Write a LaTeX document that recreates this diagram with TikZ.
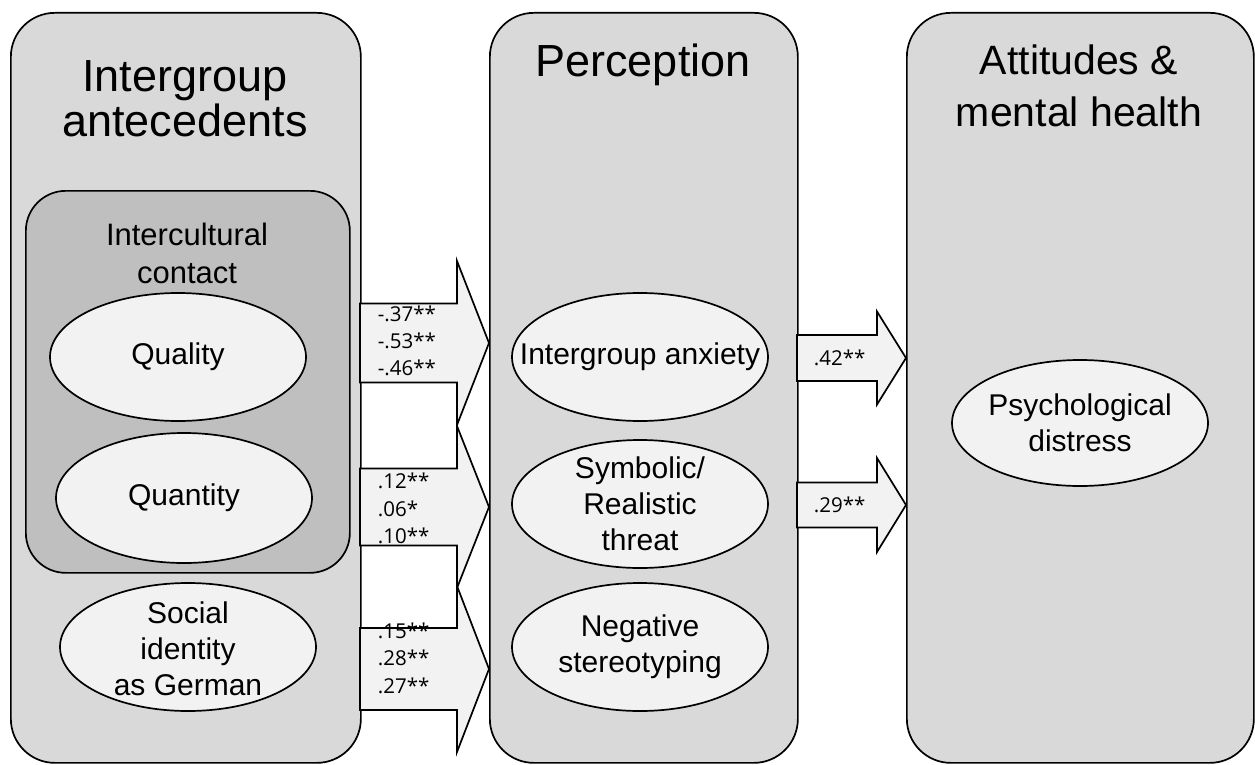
\documentclass[tikz,border=0pt]{standalone}
\usepackage{fontspec}
\setmainfont{Liberation Sans}
\newfontfamily\lblfont{Open Sans}
\usetikzlibrary{shapes.geometric}
\definecolor{panelgray}{HTML}{D9D9D9}
\definecolor{innergray}{HTML}{BFBFBF}
\definecolor{lightfill}{HTML}{F2F2F2}
\newcommand\blockarr[6]{% x0, x1, x2, cy, half body, half head
  \draw[arrowbox] (#1,#4-#5) -- (#2,#4-#5) -- (#2,#4-#6) -- (#3,#4)
    -- (#2,#4+#6) -- (#2,#4+#5) -- (#1,#4+#5) -- cycle;}
\begin{document}
\begin{tikzpicture}[x=1pt,y=-1pt,line width=1.7pt,
  panel/.style={draw=black,fill=panelgray,rounded corners=44pt,inner sep=0pt,anchor=north west},
  innerpanel/.style={draw=black,fill=innergray,rounded corners=40pt,inner sep=0pt,anchor=north west},
  construct/.style={ellipse,draw=black,fill=lightfill,minimum width=256pt,minimum height=128pt,
    inner sep=0pt},
  ctext/.style={inner sep=0pt,align=center,font=\fontsize{30}{36}\selectfont},
  bigtitle/.style={anchor=base,inner sep=0pt,font=\fontsize{45}{45}\selectfont},
  midtitle/.style={anchor=base,inner sep=0pt,font=\fontsize{31}{36}\selectfont},
  arrowbox/.style={draw=black,fill=lightfill,line join=miter},
  lbl/.style={anchor=base west,inner sep=0pt,font=\lblfont\fontsize{20.5}{25}\selectfont}]
\fill[white] (0,0) rectangle (1255,765);
\useasboundingbox (0,0) rectangle (1255,765);

% panels
\node[panel,minimum width=350pt,minimum height=750pt] (pL) at (10,12) {};
\node[panel,minimum width=308pt,minimum height=750pt] (pM) at (489,12) {};
\node[panel,minimum width=347pt,minimum height=750pt] (pR) at (906,12) {};
\node[innerpanel,minimum width=324pt,minimum height=382pt] (pI) at (25,190) {};

% titles
\node[bigtitle] (tL1) at (185,92) {Intergroup};
\node[bigtitle] (tL2) at (185,137) {antecedents};
\node[bigtitle] (tM) at (643,77) {Perception};
\node[bigtitle,font=\fontsize{41}{41}\selectfont] (tR1) at (1079,75) {Attitudes \&};
\node[bigtitle,font=\fontsize{41}{41}\selectfont] (tR2) at (1079,127) {mental health};
\node[midtitle] (tI1) at (187,245) {Intercultural};
\node[midtitle] (tI2) at (187,283) {contact};

% constructs
\node[construct,label={[ctext]center:Quality}] (qual) at (178,357) {};
\node[construct,minimum height=130pt,label={[ctext]center:Quantity}] (quan) at (184,498) {};
\node[construct,label={[ctext,yshift=-2pt]center:{Social\\identity\\as German}}] (soc) at (188,647) {};
\node[construct,label={[ctext]center:Intergroup anxiety}] (anx) at (640,357) {};
\node[construct,label={[ctext]center:{Symbolic/\\Realistic\\threat}}] (thr) at (640,504) {};
\node[construct,label={[ctext]center:{Negative\\stereotyping}}] (ster) at (640,647) {};
\node[construct,minimum height=126pt,label={[ctext]center:{Psychological\\distress}}] (psy) at (1080,423) {};

% block arrows
\blockarr{360}{457}{489}{343}{39.5}{82}
\blockarr{360}{457}{489}{507}{38.5}{81}
\blockarr{360}{457}{489}{669}{41}{83}
\blockarr{797}{877}{906}{358}{23}{46.5}
\blockarr{797}{877}{906}{505}{22.5}{47}

% coefficients
\node[lbl] (c1a) at (377,321) {-.37**};
\node[lbl] (c1b) at (377,348) {-.53**};
\node[lbl] (c1c) at (377,375) {-.46**};
\node[lbl] (c2a) at (377,488) {.12**};
\node[lbl] (c2b) at (377,516) {.06*};
\node[lbl] (c2c) at (377,543) {.10**};
\node[lbl] (c3a) at (377,638) {.15**};
\node[lbl] (c3b) at (377,665) {.28**};
\node[lbl] (c3c) at (377,693) {.27**};
\node[lbl] (c4) at (813,365) {.42**};
\node[lbl] (c5) at (813,512) {.29**};
\end{tikzpicture}
\end{document}
